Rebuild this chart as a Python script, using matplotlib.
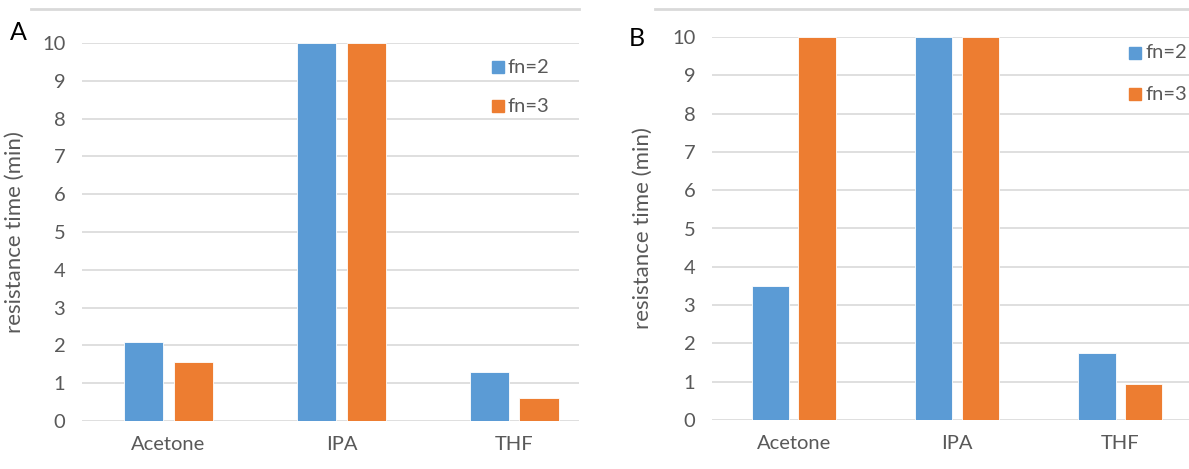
import numpy as np
import matplotlib
matplotlib.use('Agg')
import matplotlib.pyplot as plt
from matplotlib.lines import Line2D
from matplotlib.patches import Rectangle

# Data
solvents = ['Acetone', 'IPA', 'THF']
series_names = ['fn=2', 'fn=3']
panel_a_fn2 = [2.1, 10.0, 1.3]
panel_a_fn3 = [1.55, 10.0, 0.6]
panel_b_fn2 = [3.5, 10.0, 1.75]
panel_b_fn3 = [10.0, 10.0, 0.95]
y_ticks = list(range(0, 11))

BLUE = '#5B9BD5'
ORANGE = '#ED7D31'
GRID = '#D9D9D9'
TXT = '#595959'

plt.rcParams['font.family'] = ['Lato', 'DejaVu Sans']

W, H = 1189, 469
fig = plt.figure(figsize=(W / 100, H / 100), dpi=100)


def px_axes(x0, x1, ytop, ybot):
    return fig.add_axes([x0 / W, (H - ybot) / H, (x1 - x0) / W, (ybot - ytop) / H])


def draw_panel(ax, v2, v3, xmax, ylabel_x):
    x = np.arange(len(solvents))
    w = 0.228
    off = 0.143
    ax.bar(x - off, v2, w, color=BLUE, edgecolor='white', linewidth=0.6, zorder=3)
    ax.bar(x + off, v3, w, color=ORANGE, edgecolor='white', linewidth=0.6, zorder=3)
    ax.set_xlim(-0.5, xmax)
    ax.set_ylim(0, 10)
    ax.set_yticks(y_ticks)
    ax.set_xticks(x)
    ax.set_xticklabels(solvents)
    ax.grid(axis='y', color=GRID, linewidth=1.2, zorder=0)
    ax.set_axisbelow(True)
    for s in ax.spines.values():
        s.set_visible(False)
    ax.tick_params(axis='both', length=0, colors=TXT, labelsize=14.5)
    ax.tick_params(axis='y', pad=12)
    ax.tick_params(axis='x', pad=11)
    ax.set_ylabel('resistance time (min)', color=TXT, fontsize=16)
    ax.yaxis.set_label_coords(ylabel_x, 0.5)
    ax.patch.set_alpha(0)


ax_a = px_axes(82, 579, 43, 421)
draw_panel(ax_a, panel_a_fn2, panel_a_fn3, 2.373, -0.115)
ax_b = px_axes(712, 1189, 37, 420)
draw_panel(ax_b, panel_b_fn2, panel_b_fn3, 2.42, -0.125)


def fig_px(xp, yp):
    return xp / W, (H - yp) / H


# top border lines
for xa, xb in [(31, 579), (655, 1189)]:
    x0, y0 = fig_px(xa, 9)
    x1, _ = fig_px(xb, 9)
    fig.add_artist(Line2D([x0, x1], [y0, y0], color=GRID, linewidth=2))

# panel letters
fig.text(*fig_px(18, 32), 'A', fontsize=18, color='black', ha='center', va='center')
fig.text(*fig_px(637, 39), 'B', fontsize=18, color='black', ha='center', va='center')

# legends (square markers + text)
for (lx, ly1, ly2) in [(492, 67, 106), (1129, 53, 94)]:
    for name, col, ly in zip(series_names, [BLUE, ORANGE], [ly1, ly2]):
        fx, fy = fig_px(lx, ly + 6)
        fig.add_artist(Rectangle((fx, fy), 12 / W, 12 / H, color=col,
                                 transform=fig.transFigure))
        fig.text(*fig_px(lx + 16, ly), name, fontsize=14.5, color=TXT,
                 ha='left', va='center')

fig.savefig('out.png', dpi=100)
